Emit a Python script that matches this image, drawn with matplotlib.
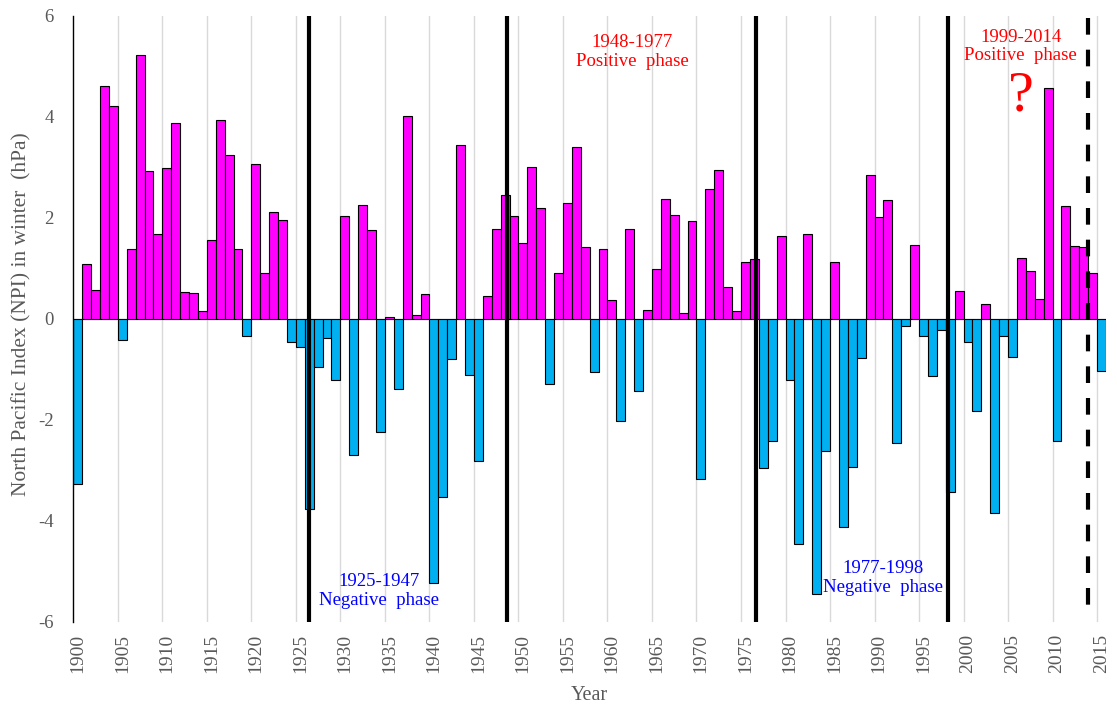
import matplotlib
matplotlib.use("Agg")
import matplotlib.pyplot as plt
import numpy as np

plt.rcParams['font.family'] = ['Liberation Serif', 'DejaVu Serif']
plt.rcParams['lines.scale_dashes'] = False

years = list(range(1900, 2016))
npi = [
    -3.27, 1.09, 0.57, 4.60, 4.21, -0.43, 1.39, 5.23, 2.92, 1.68,   # 1900-1909
    2.98, 3.87, 0.52, 0.50, 0.15, 1.55, 3.94, 3.25, 1.39, -0.34,    # 1910-1919
    3.07, 0.91, 2.12, 1.96, -0.46, -0.57, -3.76, -0.96, -0.38, -1.22,  # 1920-1929
    2.03, -2.69, 2.26, 1.76, -2.25, 0.03, -1.39, 4.01, 0.07, 0.48,  # 1930-1939
    -5.23, -3.54, -0.79, 3.44, -1.11, -2.82, 0.44, 1.78, 2.44, 2.03,  # 1940-1949
    1.49, 3.01, 2.19, -1.29, 0.91, 2.30, 3.40, 1.41, -1.06, 1.39,   # 1950-1959
    0.37, -2.03, 1.78, -1.43, 0.18, 0.98, 2.37, 2.05, 0.11, 1.94,   # 1960-1969
    -3.17, 2.57, 2.94, 0.62, 0.16, 1.12, 1.19, -2.96, -2.42, 1.64,  # 1970-1979
    -1.21, -4.46, 1.68, -5.45, -2.61, 1.12, -4.12, -2.93, -0.77, 2.85,  # 1980-1989
    2.01, 2.35, -2.46, -0.15, 1.46, -0.34, -1.14, -0.22, -3.44, 0.55,  # 1990-1999
    -0.46, -1.82, 0.30, -3.84, -0.34, -0.75, 1.21, 0.94, 0.39, 4.57,  # 2000-2009
    -2.42, 2.23, 1.44, 1.41, 0.91, -1.04,                            # 2010-2015
]

regime_shifts = [1926.0, 1948.2, 1976.2, 1997.7]
possible_shift = 2013.5

phase_labels = ["1925-1947\nNegative  phase", "1948-1977\nPositive  phase",
                "1977-1998\nNegative  phase", "1999-2014\nPositive  phase"]
phase_label_pos = [(1933.8, -5.40), (1962.25, 5.29), (1990.4, -5.13), (2005.9, 5.39)]
phase_colors = ['#0000FF', '#FF0000', '#0000FF', '#FF0000']

pos_color = '#FF00FF'
neg_color = '#00B0F0'
text_gray = '#595959'

fig = plt.figure(figsize=(11.17, 7.09), dpi=100)
ax = fig.add_axes([73.3 / 1117, 1 - 621.7 / 709, (1106 - 73.3) / 1117, (621.7 - 15.7) / 709])

colors = [pos_color if v >= 0 else neg_color for v in npi]
ax.bar(years, npi, width=1.0, color=colors, edgecolor='black', linewidth=0.8, zorder=3)

ax.set_xlim(1899.5, 2015.5)
ax.set_ylim(-6, 6)

# vertical gridlines at category boundaries every 5 years
for yr in range(1905, 2016, 5):
    ax.axvline(yr - 0.5, color='#d9d9d9', linewidth=1.0, zorder=1)
ax.axhline(0, color='#d9d9d9', linewidth=1.0, zorder=2)

for xs in regime_shifts:
    ax.plot([xs, xs], [6, -6], color='black', linewidth=3.0, zorder=5, solid_capstyle='butt')
ax.plot([possible_shift, possible_shift], [5.95, -5.85], color='black', linewidth=3.0,
        dashes=(12, 10.8), zorder=5)

for txt, (px, py), c in zip(phase_labels, phase_label_pos, phase_colors):
    ax.text(px, py, txt, color=c, fontsize=13.5, ha='center', va='center',
            linespacing=1.15, zorder=6)
ax.text(2005.9, 4.40, "?", color='#FF0000', fontsize=42, ha='center', va='center', zorder=6)

ax.set_xticks(list(range(1900, 2016, 5)))
ax.set_xticklabels([str(y) for y in range(1900, 2016, 5)], rotation=90,
                   fontsize=14, color=text_gray)
ax.set_yticks([-6, -4, -2, 0, 2, 4, 6])
ax.set_yticklabels(['-6', '-4', '-2', '0', '2', '4', '6'], fontsize=13.5, color=text_gray)
ax.tick_params(axis='x', length=0, pad=9)
ax.tick_params(axis='y', length=0, pad=14)

for s in ['top', 'right', 'bottom']:
    ax.spines[s].set_visible(False)
ax.spines['left'].set_color('black')
ax.spines['left'].set_linewidth(1.0)
ax.spines['left'].set_zorder(4)

ax.set_xlabel("Year", fontsize=14.5, color=text_gray)
ax.xaxis.label.set_va('center')
ax.xaxis.set_label_coords(0.4994, (621.7 - 696) / 606)
ax.set_ylabel("North Pacific Index (NPI) in winter  (hPa)", fontsize=15.5, color=text_gray)
ax.yaxis.label.set_va('center')
ax.yaxis.set_label_coords((22 - 73.3) / 1032.7, (621.7 - 314) / 606)

fig.savefig("out.png", dpi=100)
